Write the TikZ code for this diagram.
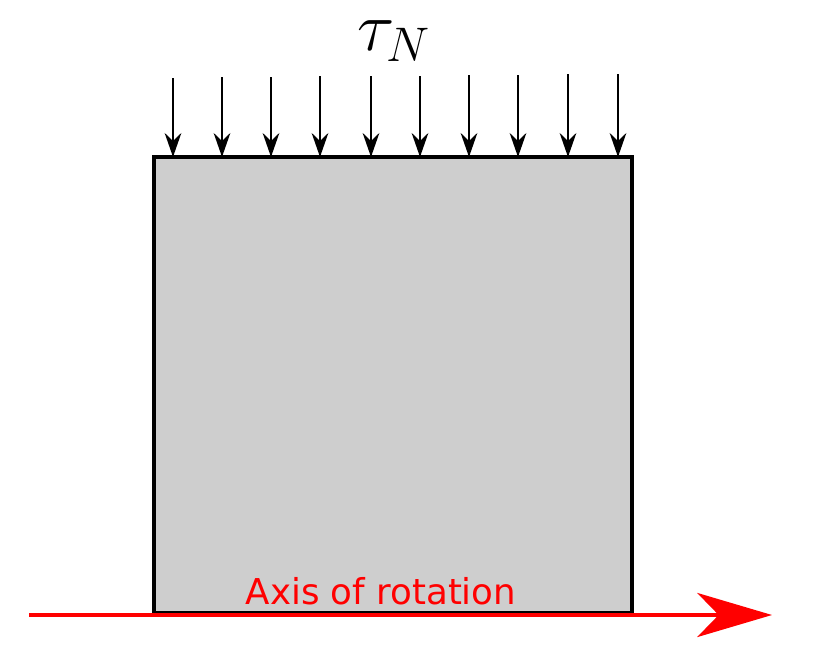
\documentclass[tikz,border=0pt]{standalone}
\usepackage{fix-cm}
\usepackage{fontspec}
\newfontfamily\labelfont{DejaVu Sans}
\usetikzlibrary{arrows.meta}
\definecolor{blockgray}{HTML}{CECECE}
\tikzset{
  load/.style={line width=1.3pt,-{Stealth[length=18pt,width=12.5pt,inset=6pt]}},
  axisarrow/.style={red,line width=3.6pt,-{Stealth[length=56pt,width=33pt,inset=16pt]}},
  block/.style={draw=black,fill=blockgray,line width=2.6pt}
}
\begin{document}
\begin{tikzpicture}[x=0.75pt,y=-0.75pt]
\useasboundingbox (0,0) rectangle (818,668);
\filldraw[block] (154,157) rectangle (632,613);
\node[inner sep=0pt] (blk) at (393,385) {};
\foreach \i/\xx/\yy in {1/173/78,2/222/77,3/271/77,4/320/76,5/371/76,6/420/76,7/469/75,8/518/75,9/568/74,10/618/74}{
  \coordinate (s\i) at (\xx,\yy);
  \coordinate (e\i) at (\xx,157);
  \draw[load] (s\i) -- (e\i);
}
\node[inner sep=0pt] (tau) at (394,41) {\fontsize{52}{60}\selectfont$\tau_N$};
\coordinate (axs) at (29,615);
\coordinate (axe) at (772,615);
\draw[axisarrow] (axs) -- (axe);
\node[red,inner sep=0pt] (lab) at (381,591) {\labelfont\fontsize{26.7}{30}\selectfont Axis of rotation};
\end{tikzpicture}
\end{document}
